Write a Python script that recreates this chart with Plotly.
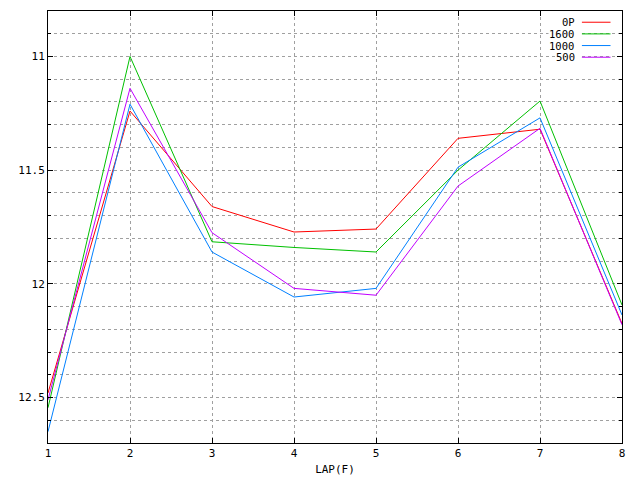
import plotly.graph_objects as go

laps = [1, 2, 3, 4, 5, 6, 7, 8]
series_names = ["0P", "1600", "1000", "500"]
op = [12.48, 11.24, 11.66, 11.772, 11.759, 11.36, 11.32, 12.175]
s1600 = [12.545, 11.0, 11.815, 11.84, 11.86, 11.5, 11.196, 12.093]
s1000 = [12.65, 11.21, 11.86, 12.058, 12.02, 11.487, 11.27, 12.137]
s500 = [12.51, 11.14, 11.775, 12.02, 12.05, 11.57, 11.316, 12.18]
colors = ["#ff0000", "#00c000", "#0080ff", "#c000ff"]
y_ticks = [11, 11.5, 12, 12.5]
x_title = "LAP(F)"

FONT = dict(family="DejaVu Sans Mono", size=11, color="black")
LEGFONT = dict(family="DejaVu Sans Mono", size=10.5, color="black")
GRID = "#a0a0a0"

fig = go.Figure()
for name, vals, col in zip(series_names, [op, s1600, s1000, s500], colors):
    fig.add_trace(go.Scatter(x=laps, y=vals, mode="lines", name=name,
                             line=dict(color=col, width=1), showlegend=False))

# custom gnuplot-style legend (text right, sample on right)
leg_y = [0.974, 0.947, 0.920, 0.893]
for name, col, yy in zip(series_names, colors, leg_y):
    fig.add_annotation(xref="paper", yref="paper", x=0.931, y=yy, text=name + " ",
                       showarrow=False, xanchor="right", yanchor="middle",
                       font=LEGFONT, borderpad=0, bgcolor="white")
    fig.add_shape(type="line", xref="paper", yref="paper", x0=0.930, x1=0.980,
                  y0=yy, y1=yy, line=dict(color=col, width=1))

fig.update_layout(
    width=640, height=480,
    margin=dict(l=40, r=26, t=3, b=45, autoexpand=False),
    paper_bgcolor="white", plot_bgcolor="white",
    font=FONT,
    showlegend=False,
)
fig.update_xaxes(
    range=[1, 8], tickvals=laps, ticktext=[str(v) for v in laps],
    showline=True, linecolor="black", linewidth=1, mirror="allticks",
    ticks="inside", ticklen=5, tickcolor="black",
    showgrid=True, gridcolor=GRID, griddash="dot", gridwidth=1,
    zeroline=False, title=dict(text=x_title, font=FONT, standoff=6),
)
fig.update_yaxes(
    range=[12.7, 10.8], tickvals=y_ticks, ticktext=[str(v) for v in y_ticks],
    showline=True, linecolor="black", linewidth=1, mirror="allticks",
    ticks="inside", ticklen=5, tickcolor="black",
    showgrid=True, gridcolor=GRID, griddash="dot", gridwidth=1,
    zeroline=False,
    minor=dict(dtick=0.1, tick0=10.8, showgrid=True, gridcolor=GRID, griddash="dot",
               gridwidth=1, ticks="inside", ticklen=3, tickcolor="black"),
)

fig.write_html("out.html")
